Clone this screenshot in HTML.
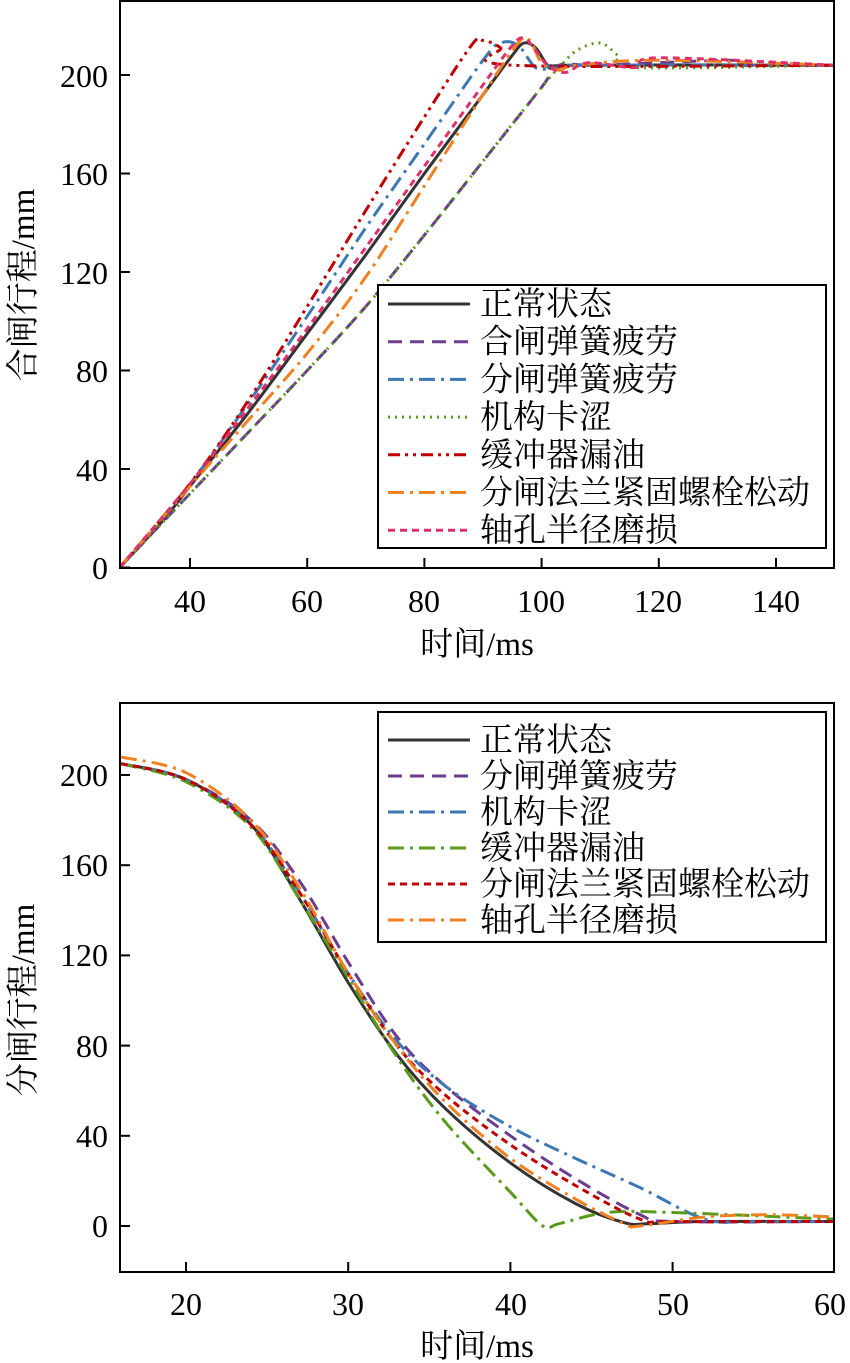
<!DOCTYPE html>
<html><head><meta charset="utf-8"><style>
body{margin:0;background:#fff}
svg{display:block;font-family:"Liberation Serif","Noto Serif CJK SC",serif}
</style></head><body>
<svg id="s" width="850" height="1363" viewBox="0 0 850 1363" xmlns="http://www.w3.org/2000/svg">
<rect width="850" height="1363" fill="#fff"/>
<g id="g"></g>
<rect x="120" y="1" width="714" height="567" fill="none" stroke="#000" stroke-width="2"/>
<g font-size="32" fill="#000">
<text x="108" y="579" text-anchor="end">0</text>
<text x="108" y="481" text-anchor="end">40</text>
<text x="108" y="382" text-anchor="end">80</text>
<text x="108" y="284" text-anchor="end">120</text>
<text x="108" y="185" text-anchor="end">160</text>
<text x="108" y="87" text-anchor="end">200</text>
<text x="190" y="612" text-anchor="middle">40</text>
<text x="307" y="612" text-anchor="middle">60</text>
<text x="424" y="612" text-anchor="middle">80</text>
<text x="541" y="612" text-anchor="middle">100</text>
<text x="658" y="612" text-anchor="middle">120</text>
<text x="776" y="612" text-anchor="middle">140</text>
<text x="477" y="655" text-anchor="middle" font-size="33">时间/ms</text>
<text transform="translate(34,285) rotate(-90)" text-anchor="middle" font-size="33">合闸行程/mm</text>
</g>
<rect x="120" y="703" width="714" height="569" fill="none" stroke="#000" stroke-width="2"/>
<g font-size="32" fill="#000">
<text x="108" y="1237" text-anchor="end">0</text>
<text x="108" y="1147" text-anchor="end">40</text>
<text x="108" y="1057" text-anchor="end">80</text>
<text x="108" y="966" text-anchor="end">120</text>
<text x="108" y="876" text-anchor="end">160</text>
<text x="108" y="786" text-anchor="end">200</text>
<text x="186" y="1315" text-anchor="middle">20</text>
<text x="348" y="1315" text-anchor="middle">30</text>
<text x="511" y="1315" text-anchor="middle">40</text>
<text x="673" y="1315" text-anchor="middle">50</text>
<text x="830" y="1315" text-anchor="middle">60</text>
<text x="477" y="1357" text-anchor="middle" font-size="33">时间/ms</text>
<text transform="translate(34,1000) rotate(-90)" text-anchor="middle" font-size="33">分闸行程/mm</text>
</g>
<g id="leg"></g>
</svg>
<script>
(function(){
var NS="http://www.w3.org/2000/svg",g=document.getElementById('g'),lg=document.getElementById('leg');
function el(p,t,a){var e=document.createElementNS(NS,t);for(var k in a)e.setAttribute(k,a[k]);p.appendChild(e);return e;}
function cr(pts){var d="M"+pts[0][0]+","+pts[0][1];for(var i=0;i<pts.length-1;i++){var p0=pts[i-1]||pts[i],p1=pts[i],p2=pts[i+1],p3=pts[i+2]||p2;
d+=" C"+(p1[0]+(p2[0]-p0[0])/6)+","+(p1[1]+(p2[1]-p0[1])/6)+" "+(p2[0]-(p3[0]-p1[0])/6)+","+(p2[1]-(p3[1]-p1[1])/6)+" "+p2[0]+","+p2[1];}return d;}
var C={k:"#333",pu:"#6a3d8f",bl:"#3c78b4",gr:"#5a9a1a",rd:"#c00000",or:"#f08020",pk:"#e0306a"};
var D={solid:"",dash:"14,8",dd:"16,6,3,6",dot:"2,5",dd2:"12,5,3,5,3,5",sd:"7,5"};
var serTop=[
["正常状态",C.k,D.solid,[[28,0],[35,18],[40,33],[50,63],[60,95],[70,127],[80,160],[90,192],[95,208],[97,213],[99,211],[101,204],[103,202],[105,204],[150,204]]],
["合闸弹簧疲劳",C.pu,D.dash,[[28,0],[40,30],[50,55],[60,80],[70,106],[80,135],[90,165],[100,195],[103,204],[110,204],[132,206],[134,204],[150,204]]],
["分闸弹簧疲劳",C.bl,D.dd,[[28,0],[40,34],[50,67],[60,102],[70,138],[80,172],[90,206],[93,213],[96,212],[99,203],[102,203],[105,204],[150,204]]],
["机构卡涩",C.gr,D.dot,[[28,0],[40,30],[50,55],[60,80],[70,106],[80,135],[90,165],[100,195],[103,203],[106,210],[110,213],[113,208],[116,203],[150,204]]],
["缓冲器漏油",C.rd,D.dd2,[[28,0],[40,34],[50,68],[60,106],[70,145],[80,183],[88,212],[90,214],[93,211],[95,204],[150,204]]],
["分闸法兰紧固螺栓松动",C.or,D.dd,[[28,0],[40,33],[50,60],[60,87],[70,118],[80,155],[90,192],[96,213],[98,214],[100,205],[103,202],[106,204],[120,206],[150,204]]],
["轴孔半径磨损",C.pk,D.sd,[[28,0],[40,34],[50,65],[60,97],[70,130],[80,163],[90,196],[95,212],[97,215],[99,210],[101,204],[104,201],[108,205],[116,203],[120,207],[150,204]]]];
var serBot=[
["正常状态",C.k,D.solid,[[16,205],[20,198],[24,178],[27,145],[30,108],[33,76],[36,52],[40,28],[44,10],[47,1.5],[48.5,1],[52,2],[60,2]]],
["分闸弹簧疲劳",C.pu,D.dash,[[16,205],[20,198],[24,180],[27,153],[30,117],[33,84],[36,62],[40,40],[44,21],[48,5],[50,2],[60,2]]],
["机构卡涩",C.bl,D.dd,[[16,205],[20,198],[24,178],[27,148],[30,112],[33,82],[36,62],[40,44],[44,30],[48,17],[52,3],[55,2],[60,2]]],
["缓冲器漏油",C.gr,D.dd,[[16,205],[20,197],[24,177],[27,145],[30,110],[33,75],[36,46],[40,15],[42,0],[43,1],[46,6],[50,6],[60,3]]],
["分闸法兰紧固螺栓松动",C.rd,D.sd,[[16,205],[20,198],[24,178],[27,148],[30,112],[33,80],[36,58],[40,36],[44,18],[48,3],[50,2],[60,2]]],
["轴孔半径磨损",C.or,D.dd,[[16,208],[20,201],[24,180],[27,150],[30,112],[33,80],[36,55],[40,30],[44,12],[47,1],[48,0],[52,4],[56,5],[60,4]]]];
var d1=el(g,"clipPath",{id:"c1"});el(d1,"rect",{x:120,y:1,width:714,height:567});
var d2=el(g,"clipPath",{id:"c2"});el(d2,"rect",{x:120,y:703,width:714,height:569});
function draw(S,fx,fy,clip){S.forEach(function(s){var p=s[3].map(function(q){return[+fx(q[0]).toFixed(1),+fy(q[1]).toFixed(1)]});
var a={d:cr(p),fill:"none",stroke:s[1],"stroke-width":3,"clip-path":clip};if(s[2])a["stroke-dasharray"]=s[2];el(g,"path",a);});}
draw(serTop,function(t){return 190+(t-40)*5.86},function(v){return 567.5-v*2.4625},"url(#c1)");
draw(serBot,function(t){return 186+(t-20)*16.22},function(v){return 1226-v*2.255},"url(#c2)");
[0,40,80,120,160,200].forEach(function(v){var y=567.5-v*2.4625;el(g,"line",{x1:120,x2:130,y1:y,y2:y,stroke:"#000","stroke-width":2});
var y2=1226-v*2.255;el(g,"line",{x1:120,x2:130,y1:y2,y2:y2,stroke:"#000","stroke-width":2});});
[40,60,80,100,120,140].forEach(function(t){var x=190+(t-40)*5.86;el(g,"line",{x1:x,x2:x,y1:568,y2:558,stroke:"#000","stroke-width":2});});
[20,30,40,50].forEach(function(t){var x=186+(t-20)*16.22;el(g,"line",{x1:x,x2:x,y1:1272,y2:1262,stroke:"#000","stroke-width":2});});
function legend(S,x,y,w,h,y0,dy){el(lg,"rect",{x:x,y:y,width:w,height:h,fill:"#fff",stroke:"#000","stroke-width":2});
S.forEach(function(s,i){var yy=y0+i*dy;var a={x1:388,x2:470,y1:yy,y2:yy,stroke:s[1],"stroke-width":3};if(s[2])a["stroke-dasharray"]=s[2];el(lg,"line",a);
var t=el(lg,"text",{x:480,y:yy+11,"font-size":33,fill:"#000"});t.textContent=s[0];});}
legend(serTop,378,285,448,263,304,37.7);
legend(serBot,378,712,448,230,740,36);
})();
</script>
</body></html>
